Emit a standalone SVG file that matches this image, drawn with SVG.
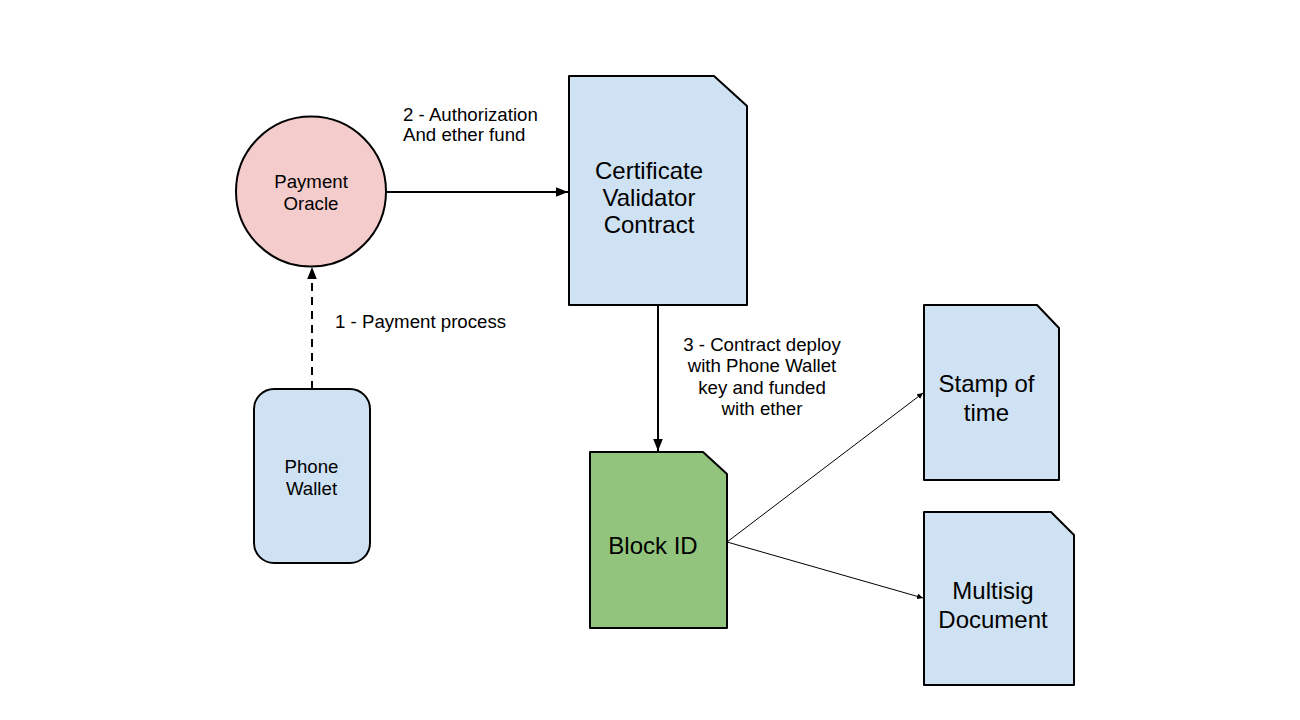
<svg xmlns="http://www.w3.org/2000/svg" width="1300" height="720" viewBox="0 0 1300 720">
<style>
  .node { stroke: #000; stroke-width: 2; stroke-linejoin: round; }
  .blue { fill: #cfe2f3; }
  .pink { fill: #f4cccc; }
  .green { fill: #93c47d; }
  .t16 { font-family: "Liberation Sans", Arial, sans-serif; font-size: 18.67px; fill: #000; }
  .t22 { font-family: "Liberation Sans", Arial, sans-serif; font-size: 24px; fill: #000; }
  .c { text-anchor: middle; }
  .edge { stroke: #000; fill: none; }
</style>
<defs>
  <marker id="ah" viewBox="0 0 10 10" refX="10" refY="5" markerWidth="6" markerHeight="6" markerUnits="userSpaceOnUse" orient="auto">
    <path d="M0,0 L10,5 L0,10 z" fill="#000"/>
  </marker>
  <marker id="ahb" viewBox="0 0 10 10" refX="10" refY="5" markerWidth="12" markerHeight="12" markerUnits="userSpaceOnUse" orient="auto">
    <path d="M0,1 L10,5 L0,9 z" fill="#000"/>
  </marker>
</defs>
<rect width="1300" height="720" fill="#fff"/>

<g id="connectors">
  <line class="edge" x1="386" y1="192" x2="568" y2="192" stroke-width="2" marker-end="url(#ahb)"/>
  <line class="edge" x1="312" y1="389" x2="312" y2="267" stroke-width="2" stroke-dasharray="8,6" marker-end="url(#ahb)"/>
  <line class="edge" x1="658" y1="305" x2="658" y2="451" stroke-width="2" marker-end="url(#ahb)"/>
  <line class="edge" x1="727" y1="542" x2="923" y2="393" stroke-width="1" marker-end="url(#ah)"/>
  <line class="edge" x1="727" y1="542" x2="923" y2="598" stroke-width="1" marker-end="url(#ah)"/>
  <text class="t16" x="403" y="120.5">2 - Authorization</text>
  <text class="t16" x="403" y="141">And ether fund</text>
  <text class="t16" x="335" y="328">1 - Payment process</text>
  <text class="t16 c" x="762" y="350.5">3 - Contract deploy</text>
  <text class="t16 c" x="762" y="372">with Phone Wallet</text>
  <text class="t16 c" x="762" y="393.5">key and funded</text>
  <text class="t16 c" x="762" y="415">with ether</text>
</g>

<g id="payment-oracle">
  <circle class="node pink" cx="311" cy="191.5" r="75"/>
  <text class="t16 c" x="311" y="187.5">Payment</text>
  <text class="t16 c" x="311" y="209.5">Oracle</text>
</g>

<g id="certificate-validator">
  <path class="node blue" d="M569,76 L714,76 L747,106 L747,305 L569,305 Z"/>
  <text class="t22 c" x="649" y="179">Certificate</text>
  <text class="t22 c" x="649" y="206">Validator</text>
  <text class="t22 c" x="649" y="233">Contract</text>
</g>

<g id="phone-wallet">
  <rect class="node blue" x="254" y="389" width="116" height="174" rx="20" ry="20"/>
  <text class="t16 c" x="311.5" y="473">Phone</text>
  <text class="t16 c" x="311.5" y="494.5">Wallet</text>
</g>

<g id="block-id">
  <path class="node green" d="M590,452 L703,452 L727,474 L727,628 L590,628 Z"/>
  <text class="t22 c" x="653" y="554">Block ID</text>
</g>

<g id="stamp-of-time">
  <path class="node blue" d="M924,305 L1037,305 L1059,328 L1059,480 L924,480 Z"/>
  <text class="t22 c" x="986.5" y="392">Stamp of</text>
  <text class="t22 c" x="986.5" y="420.5">time</text>
</g>

<g id="multisig-document">
  <path class="node blue" d="M924,512 L1051,512 L1074,535 L1074,685 L924,685 Z"/>
  <text class="t22 c" x="993" y="599">Multisig</text>
  <text class="t22 c" x="993" y="627.5">Document</text>
</g>
</svg>
